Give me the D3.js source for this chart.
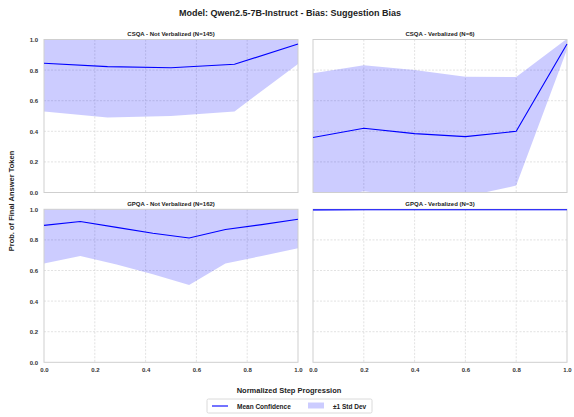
<!DOCTYPE html>
<html>
<head>
<meta charset="utf-8">
<script src="https://cdn.jsdelivr.net/npm/d3@7"></script>
<style>
  body { margin: 0; background: #fff; }
  svg { font-family: "Liberation Sans", Arial, sans-serif; }
  .grid line { stroke: #d6d6d6; stroke-dasharray: 2,1.5; stroke-width: 0.7; }
  .tick text { fill: #333; font-size: 6px; font-weight: bold; }
</style>
</head>
<body>
<script>
// data per panel (mean and std; band = mean +/- std)
var csqaNVx = [0, 0.25, 0.5, 0.75, 1.0];
var csqaNVmean = [0.845, 0.823, 0.815, 0.838, 0.970];
var csqaNVstd = [0.315, 0.333, 0.315, 0.308, 0.130];

var csqaVx = [0, 0.2, 0.4, 0.6, 0.8, 1.0];
var csqaVmean = [0.360, 0.420, 0.385, 0.365, 0.400, 0.970];
var csqaVstd = [0.420, 0.412, 0.415, 0.392, 0.355, 0.035];

var gpqaNVx = [0, 1/7, 2/7, 3/7, 4/7, 5/7, 6/7, 1.0];
var gpqaNVmean = [0.895, 0.920, 0.882, 0.843, 0.812, 0.868, 0.900, 0.935];
var gpqaNVstd = [0.250, 0.225, 0.242, 0.268, 0.307, 0.223, 0.205, 0.190];

var gpqaVx = [0, 0.2, 0.4, 0.6, 0.8, 1.0];
var gpqaVmean = [0.996, 0.997, 0.997, 0.997, 0.997, 0.997];
var gpqaVstd = [0.005, 0.003, 0.003, 0.003, 0.003, 0.003];

var xTicks = [0, 0.2, 0.4, 0.6, 0.8, 1.0];
var yTicks = [0, 0.2, 0.4, 0.6, 0.8, 1.0];

var panels = [
  {title: "CSQA - Not Verbalized (N=145)", x: csqaNVx, mean: csqaNVmean, std: csqaNVstd, col: 0, row: 0},
  {title: "CSQA - Verbalized (N=6)", x: csqaVx, mean: csqaVmean, std: csqaVstd, col: 1, row: 0},
  {title: "GPQA - Not Verbalized (N=162)", x: gpqaNVx, mean: gpqaNVmean, std: gpqaNVstd, col: 0, row: 1},
  {title: "GPQA - Verbalized (N=3)", x: gpqaVx, mean: gpqaVmean, std: gpqaVstd, col: 1, row: 1}
];

var W = 574, H = 417;
var colX = [44, 313], pw = 254;
var rowY = [39.5, 209.3], ph = 153;

var svg = d3.select("body").append("svg")
  .attr("width", W).attr("height", H);

svg.append("text")
  .attr("x", 290).attr("y", 16)
  .attr("text-anchor", "middle")
  .style("font-size", "9px").style("font-weight", "bold").style("fill", "#222")
  .text("Model: Qwen2.5-7B-Instruct - Bias: Suggestion Bias");

panels.forEach(function(p, i) {
  var g = svg.append("g")
    .attr("transform", "translate(" + colX[p.col] + "," + rowY[p.row] + ")");

  var x = d3.scaleLinear().domain([0, 1]).range([0, pw]);
  var y = d3.scaleLinear().domain([0, 1]).range([ph, 0]);

  // grid
  var grid = g.append("g").attr("class", "grid");
  grid.selectAll(".gx").data(xTicks.slice(1, -1)).enter().append("line")
    .attr("x1", function(d) { return x(d); }).attr("x2", function(d) { return x(d); })
    .attr("y1", 0).attr("y2", ph);
  grid.selectAll(".gy").data(yTicks.slice(1, -1)).enter().append("line")
    .attr("y1", function(d) { return y(d); }).attr("y2", function(d) { return y(d); })
    .attr("x1", 0).attr("x2", pw);

  svg.append("clipPath").attr("id", "clip" + i)
    .append("rect").attr("width", pw).attr("height", ph);

  var pts = p.x.map(function(v, k) { return {x: v, m: p.mean[k], s: p.std[k]}; });

  var area = d3.area()
    .x(function(d) { return x(d.x); })
    .y0(function(d) { return y(d.m - d.s); })
    .y1(function(d) { return y(d.m + d.s); });
  var line = d3.line()
    .x(function(d) { return x(d.x); })
    .y(function(d) { return y(d.m); });

  var c = g.append("g").attr("clip-path", "url(#clip" + i + ")");
  c.append("path").datum(pts).attr("d", area)
    .attr("fill", "#0000ff").attr("fill-opacity", 0.2);

  // frame
  g.append("rect").attr("width", pw).attr("height", ph)
    .attr("fill", "none").attr("stroke", "#cfcfcf").attr("stroke-width", 1);

  g.append("path").datum(pts).attr("d", line)
    .attr("fill", "none").attr("stroke", "#0000ff").attr("stroke-width", 1.1);

  g.append("text")
    .attr("x", pw / 2).attr("y", -3.5)
    .attr("text-anchor", "middle")
    .style("font-size", "6px").style("font-weight", "bold").style("fill", "#222")
    .text(p.title);

  if (p.col === 0) {
    var ya = g.append("g")
      .call(d3.axisLeft(y).tickValues(yTicks).tickFormat(d3.format(".1f")).tickSize(0).tickPadding(6));
    ya.select(".domain").remove();
  }
  if (p.row === 1) {
    var xa = g.append("g").attr("transform", "translate(0," + ph + ")")
      .call(d3.axisBottom(x).tickValues(xTicks).tickFormat(d3.format(".1f")).tickSize(0).tickPadding(5));
    xa.select(".domain").remove();
  }
});

svg.append("text")
  .attr("transform", "translate(14,201) rotate(-90)")
  .attr("text-anchor", "middle")
  .style("font-size", "7.5px").style("font-weight", "bold").style("fill", "#222")
  .text("Prob. of Final Answer Token");

svg.append("text")
  .attr("x", 289).attr("y", 393)
  .attr("text-anchor", "middle")
  .style("font-size", "7.5px").style("font-weight", "bold").style("fill", "#222")
  .text("Normalized Step Progression");

// legend
var lg = svg.append("g").attr("transform", "translate(207,399)");
lg.append("rect").attr("width", 165).attr("height", 14)
  .attr("fill", "#fff").attr("stroke", "#d0d0d0").attr("stroke-width", 0.8).attr("rx", 1.5);
lg.append("line").attr("x1", 5).attr("x2", 21).attr("y1", 7).attr("y2", 7)
  .attr("stroke", "#0000ff").attr("stroke-width", 1.1);
lg.append("text").attr("x", 30).attr("y", 9.5)
  .style("font-size", "6.5px").style("font-weight", "bold").style("fill", "#222")
  .text("Mean Confidence");
lg.append("rect").attr("x", 101).attr("y", 3.5).attr("width", 16).attr("height", 6)
  .attr("fill", "#0000ff").attr("fill-opacity", 0.2);
lg.append("text").attr("x", 126).attr("y", 9.5)
  .style("font-size", "6.5px").style("font-weight", "bold").style("fill", "#222")
  .text("±1 Std Dev");
</script>
</body>
</html>
